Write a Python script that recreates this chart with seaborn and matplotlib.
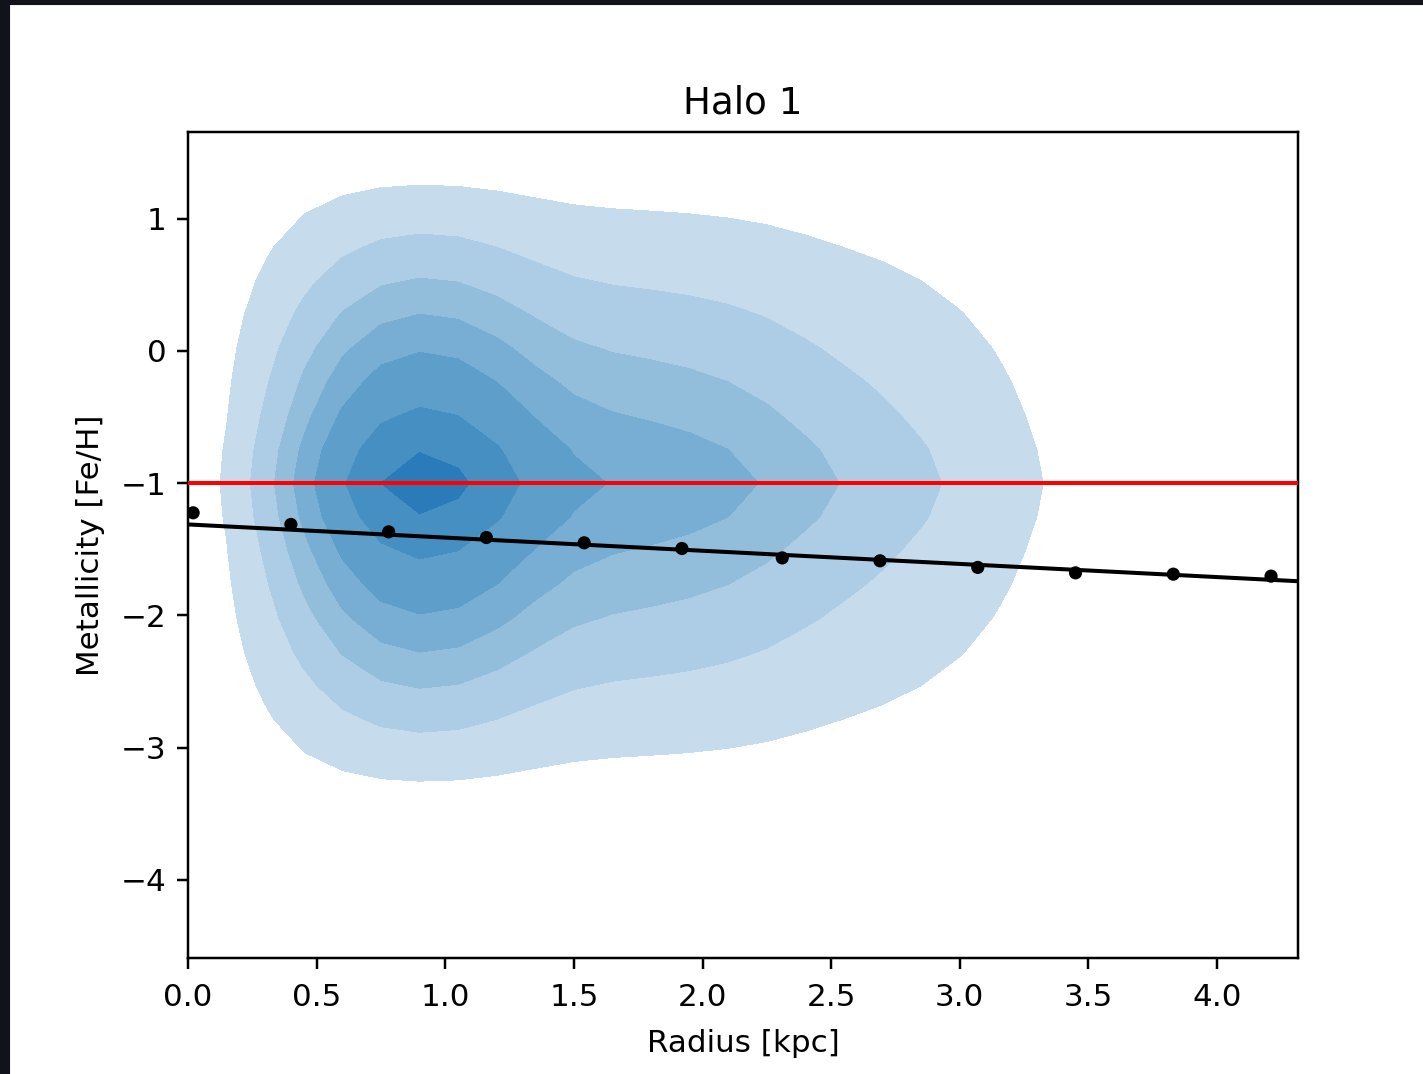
import numpy as np
import pandas as pd
import matplotlib
matplotlib.use("Agg")
import matplotlib.pyplot as plt
import seaborn as sns

# relative star counts along the radius (taken at [Fe/H] = -1)
radius_bins = [0.0, 0.1, 0.2, 0.3, 0.4, 0.5, 0.6, 0.7, 0.8, 0.9,
               1.0, 1.1, 1.2, 1.3, 1.4, 1.5, 1.6, 1.7, 1.8, 1.9,
               2.0, 2.1, 2.2, 2.3, 2.4, 2.5, 2.6, 2.7, 2.8, 2.9,
               3.0, 3.1, 3.2, 3.3, 3.4, 3.5, 3.6, 3.7, 3.8]
radius_counts = [0.0, 0.25, 1.45, 2.6, 3.8, 5.0, 6.1, 7.0, 7.5, 7.7,
                 7.6, 7.2, 6.6, 5.95, 5.35, 4.9, 4.75, 4.7, 4.6, 4.5,
                 4.35, 4.2, 4.0, 3.72, 3.38, 3.1, 2.87, 2.64, 2.4, 2.14,
                 1.85, 1.58, 1.28, 0.98, 0.72, 0.48, 0.28, 0.14, 0.05]

# relative star counts along metallicity
feh_bins = [-3.6, -3.4, -3.2, -3.0, -2.8, -2.6, -2.4, -2.2, -2.0, -1.8,
            -1.6, -1.4, -1.2, -1.0, -0.8, -0.6, -0.4, -0.2, 0.0, 0.2,
            0.4, 0.6, 0.8, 1.0, 1.2, 1.4, 1.6]
feh_counts = [0.0, 0.06, 0.14, 0.22, 0.29, 0.37, 0.45, 0.53, 0.61, 0.69,
              0.76, 0.84, 0.92, 1.0, 0.92, 0.84, 0.76, 0.69, 0.61, 0.53,
              0.45, 0.37, 0.29, 0.22, 0.14, 0.06, 0.0]

# binned mean metallicity
bin_radius = [0.02, 0.40, 0.78, 1.16, 1.54, 1.92, 2.31, 2.69, 3.07, 3.45, 3.83, 4.21]
bin_feh = [-1.224, -1.312, -1.368, -1.411, -1.451, -1.494,
           -1.565, -1.587, -1.637, -1.678, -1.688, -1.703]

# linear gradient fit
fit_intercept = -1.312
fit_slope = -0.0995
reference_feh = -1.0

band_colors = ['#c6dced', '#accde5', '#92bedc', '#78aed4', '#5e9ecb', '#458fc3', '#2b7bba']
iso_levels = [0.09, 0.258, 0.449, 0.612, 0.775, 0.89, 0.984, 1.0]

rr, ff = np.meshgrid(radius_bins, feh_bins)
ww = np.outer(feh_counts, radius_counts)
stars = pd.DataFrame({'radius': rr.ravel(), 'feh': ff.ravel(), 'w': ww.ravel()})
stars = stars[stars['w'] > 0]

dpi = 223.6
fig = plt.figure(figsize=(1423 / dpi, 1074 / dpi), dpi=dpi)
ax = fig.add_axes([0.1321, 0.1080, 0.7801, 0.7691])

sns.kdeplot(data=stars, x='radius', y='feh', weights='w', fill=True, color='#1f77b4',
            levels=iso_levels, colors=band_colors, bw_method=0.15,
            gridsize=33, cut=10, clip=((-0.6, 4.2), (-5.08, 3.08)), ax=ax)

ax.axhline(reference_feh, color='red', lw=1.3, zorder=3)
ax.axline((0, fit_intercept), slope=fit_slope, color='black', lw=1.3, zorder=4)
sns.scatterplot(x=bin_radius, y=bin_feh, color='black', s=18, edgecolor='none',
                ax=ax, zorder=5)

ax.set_xlim(0, 4.315)
ax.set_ylim(-4.59, 1.655)
ax.set_xticks([0.0, 0.5, 1.0, 1.5, 2.0, 2.5, 3.0, 3.5, 4.0])
ax.set_yticks([-4, -3, -2, -1, 0, 1])
ax.tick_params(axis='x', pad=4.5)
ax.set_xlabel('Radius [kpc]', labelpad=5.5)
ax.set_ylabel('Metallicity [Fe/H]', labelpad=5)
ax.set_title('Halo 1')

# dark screenshot border
fig.add_artist(plt.Rectangle((0, 0), 8 / 1423, 1, transform=fig.transFigure,
                             color='#10131a', zorder=0))
fig.add_artist(plt.Rectangle((0, 1 - 3 / 1074), 1, 3 / 1074, transform=fig.transFigure,
                             color='#10131a', zorder=0))

fig.savefig('out.png', dpi=dpi)
